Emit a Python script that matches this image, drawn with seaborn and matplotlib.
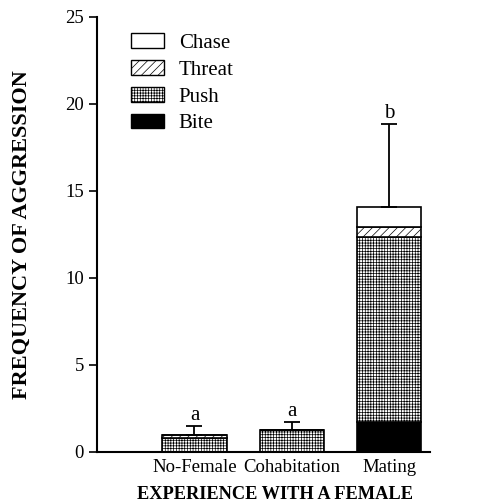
import matplotlib
matplotlib.use("Agg")
import matplotlib.pyplot as plt
import seaborn as sns
import numpy as np
import pandas as pd
from matplotlib.patches import Patch

groups = ["No-Female", "Cohabitation", "Mating"]
bite = [0.0, 0.0, 1.7]
push = [0.8, 1.25, 10.65]
threat = [0.2, 0.0, 0.6]
chase = [0.0, 0.0, 1.15]
err_top = [1.5, 1.75, 18.85]
letters = ["a", "a", "b"]
yticks = [0, 5, 10, 15, 20, 25]

sns.set_style("ticks")
plt.rcParams['font.family'] = ['Liberation Serif', 'DejaVu Serif']
plt.rcParams['hatch.linewidth'] = 0.5
for k in ["text.color", "axes.labelcolor", "xtick.color", "ytick.color", "axes.edgecolor"]:
    plt.rcParams[k] = "black"

fig = plt.figure(figsize=(4.78, 5.03), dpi=100)
ax = fig.add_axes([0.203, 0.1014, 0.697, 0.865])

layers = [("Bite", bite, "black", ""),
          ("Push", push, "white", "++++++"),
          ("Threat", threat, "white", "////"),
          ("Chase", chase, "white", "")]

bottom = np.zeros(len(groups))
for name, vals, fc, hatch in layers:
    df = pd.DataFrame({"group": groups, "val": vals})
    sns.barplot(data=df, x="group", y="val", order=groups, bottom=bottom,
                color=fc, edgecolor="black", linewidth=1.2, hatch=hatch,
                width=0.66, errorbar=None, ax=ax, saturation=1)
    bottom = bottom + np.array(vals)

totals = bottom
xpos = np.arange(len(groups))
upper = np.array(err_top) - totals
ax.errorbar(xpos, totals, yerr=[np.zeros(len(groups)), upper], fmt="none",
            ecolor="black", elinewidth=1.3, capsize=6, capthick=1.3, zorder=1)
for x, t, l in zip(xpos, err_top, letters):
    ax.text(x, t + 0.05, l, ha="center", va="bottom", fontsize=15)

ax.set_ylim(0, 25)
ax.set_xlim(-1.0, 2.42)
ax.set_yticks(yticks)
ax.tick_params(axis="both", labelsize=13.5, length=6, width=1.2, direction="out")
ax.tick_params(axis="x", length=0, pad=5)
sns.despine(ax=ax)
for s in ["left", "bottom"]:
    ax.spines[s].set_linewidth(1.5)

ax.set_xlabel("EXPERIENCE WITH A FEMALE", fontsize=13.2, fontweight="bold", va="center")
ax.xaxis.set_label_coords(0.535, -0.097)
ax.set_ylabel("FREQUENCY OF AGGRESSION", fontsize=16, fontweight="bold", labelpad=24)

handles = [Patch(facecolor="white", edgecolor="black", label="Chase"),
           Patch(facecolor="white", edgecolor="black", hatch="////", label="Threat"),
           Patch(facecolor="white", edgecolor="black", hatch="++++++", label="Push"),
           Patch(facecolor="black", edgecolor="black", label="Bite")]
ax.legend(handles=handles, loc="upper left", bbox_to_anchor=(0.058, 0.996),
          frameon=False, fontsize=15, handlelength=1.6, handleheight=0.7,
          labelspacing=0.35, handletextpad=0.7, borderaxespad=0.3)

fig.savefig("out.png", dpi=100)
